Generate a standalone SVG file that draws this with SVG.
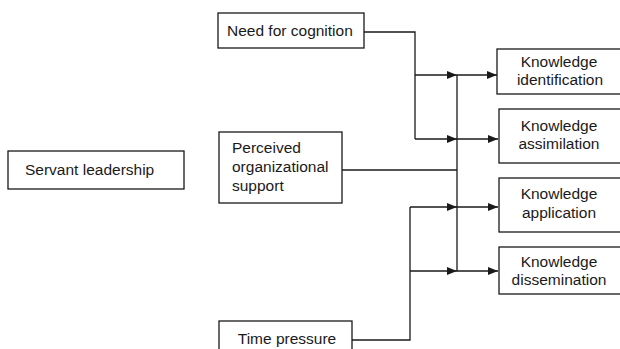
<svg xmlns="http://www.w3.org/2000/svg" width="620" height="349" viewBox="0 0 620 349">
<defs>
<style>
.box{fill:#fff;stroke:#1a1a1a;stroke-width:1.3}
.t{font-family:"Liberation Sans",Arial,sans-serif;font-size:15.5px;fill:#1a1a1a}
.c{text-anchor:middle}
.ln{fill:none;stroke:#1a1a1a;stroke-width:1.3}
</style>
<marker id="ah" viewBox="0 0 10 10" refX="10" refY="5" markerWidth="10" markerHeight="10" markerUnits="userSpaceOnUse" orient="auto">
<path d="M0,1 L10,5 L0,9 z" fill="#1a1a1a"/>
</marker>
</defs>
<rect width="620" height="349" fill="#fff"/>
<g id="connectors">
<polyline class="ln" points="364,32 415,32 415,139"/>
<line class="ln" x1="415" y1="75" x2="457" y2="75" marker-end="url(#ah)"/>
<line class="ln" x1="415" y1="139" x2="457" y2="139" marker-end="url(#ah)"/>
<line class="ln" x1="342" y1="170" x2="457" y2="170"/>
<polyline class="ln" points="352,340 410,340 410,207"/>
<line class="ln" x1="410" y1="207" x2="457" y2="207" marker-end="url(#ah)"/>
<line class="ln" x1="410" y1="271" x2="457" y2="271" marker-end="url(#ah)"/>
<line class="ln" x1="457" y1="75" x2="457" y2="271"/>
<line class="ln" x1="457" y1="75" x2="497" y2="75" marker-end="url(#ah)"/>
<line class="ln" x1="457" y1="139" x2="498" y2="139" marker-end="url(#ah)"/>
<line class="ln" x1="457" y1="207" x2="498" y2="207" marker-end="url(#ah)"/>
<line class="ln" x1="457" y1="271" x2="498" y2="271" marker-end="url(#ah)"/>
</g>
<g id="servant-leadership">
<rect class="box" x="8" y="151" width="176" height="38"/>
<text class="t" x="25" y="175">Servant leadership</text>
</g>
<g id="need-for-cognition">
<rect class="box" x="218" y="13" width="146" height="35"/>
<text class="t" x="227" y="36">Need for cognition</text>
</g>
<g id="perceived-organizational-support">
<rect class="box" x="219" y="132" width="123" height="71"/>
<text class="t" x="232" y="153">Perceived</text>
<text class="t" x="232" y="172">organizational</text>
<text class="t" x="232" y="191">support</text>
</g>
<g id="time-pressure">
<rect class="box" x="219" y="321" width="133" height="40"/>
<text class="t c" x="287" y="344">Time pressure</text>
</g>
<g id="knowledge-identification">
<rect class="box" x="497" y="49" width="126" height="45"/>
<text class="t c" x="559" y="67">Knowledge</text>
<text class="t c" x="560" y="85">identification</text>
</g>
<g id="knowledge-assimilation">
<rect class="box" x="499" y="109" width="124" height="54"/>
<text class="t c" x="559" y="131">Knowledge</text>
<text class="t c" x="559" y="149">assimilation</text>
</g>
<g id="knowledge-application">
<rect class="box" x="499" y="178" width="124" height="54"/>
<text class="t c" x="559" y="199">Knowledge</text>
<text class="t c" x="559" y="218">application</text>
</g>
<g id="knowledge-dissemination">
<rect class="box" x="499" y="247" width="124" height="47"/>
<text class="t c" x="559" y="267">Knowledge</text>
<text class="t c" x="559" y="285">dissemination</text>
</g>
</svg>
